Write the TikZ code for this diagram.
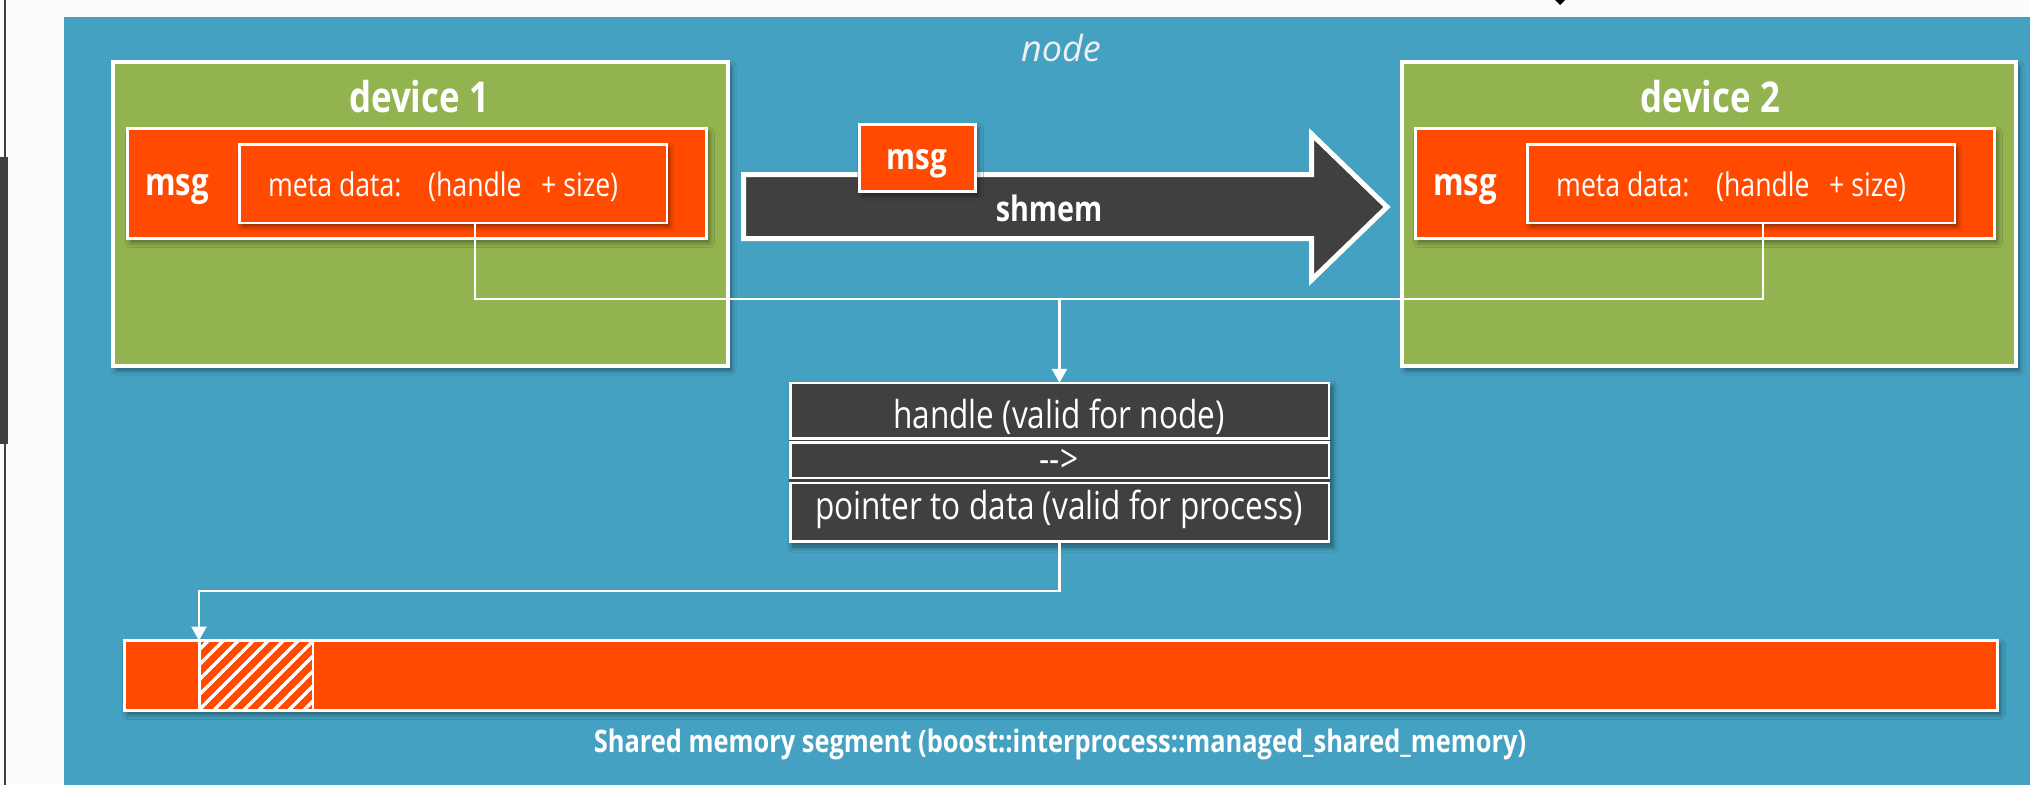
\documentclass[tikz,border=0pt]{standalone}
\usepackage{fontspec}
\setmainfont{Open Sans}[FakeStretch=0.82]
\newfontfamily\slantfont{Open Sans}
\usetikzlibrary{arrows.meta,shadows.blur}

\definecolor{panelblue}{HTML}{45A1C1}
\definecolor{devgreen}{HTML}{93B351}
\definecolor{msgorange}{HTML}{FF4A00}
\definecolor{slate}{HTML}{404040}
\definecolor{paper}{HTML}{FCFCFC}
\definecolor{faint}{HTML}{F0F0F0}

\newcommand\fsz[1]{\fontsize{#1}{#1}\selectfont}

\tikzset{
  plainbox/.style={rectangle, inner sep=0pt, outer sep=0pt, draw=white},
  softshadow/.style={blur shadow={shadow xshift=3pt, shadow yshift=-4pt,
      shadow blur radius=5pt, shadow blur steps=6, shadow opacity=45}},
  devbox/.style={plainbox, fill=devgreen, line width=4pt, softshadow},
  msgbox/.style={plainbox, fill=msgorange, line width=3pt, softshadow},
  metabox/.style={plainbox, fill=msgorange, line width=2.5pt, softshadow},
  cellbox/.style={plainbox, fill=slate, line width=2.5pt},
  devtitle/.style={text=white, font=\fsz{42.5}\bfseries, inner sep=0pt},
  msgtag/.style={text=white, font=\fsz{38}\bfseries, inner sep=0pt},
  metatext/.style={text=white, font=\fsz{32.5}, inner sep=0pt, anchor=base west},
  celltext/.style={text=white, font=\fsz{38.5}, inner sep=0pt},
  wire/.style={draw=white, line width=2.5pt},
  wirearrow/.style={wire, -{Triangle[width=15pt,length=14pt]}},
}

\begin{document}
\begin{tikzpicture}[x=1pt, y=-1pt]
  \useasboundingbox (0,0) rectangle (2030,785);

  % page surround and the blue panel
  \fill[paper] (0,0) rectangle (2030,785);
  \fill[slate] (4,0) rectangle (6,785);
  \fill[slate] (0,157) rectangle (8,444);
  \fill[black] (1555,0) -- (1565,0) -- (1560,5) -- cycle;
  \fill[panelblue] (64,17) rectangle (2030,785);

  \node[font=\slantfont\itshape\fsz{36}, text=faint, inner sep=0pt] (nodelabel) at (1061,48) {node};

  % the two devices
  \node[devbox, minimum width=615pt, minimum height=304pt] (dev1) at (420.5,214) {};
  \node[devbox, minimum width=614pt, minimum height=304pt] (dev2) at (1709,214) {};
  \node[devtitle] (dev1title) at (419,97) {device 1};
  \node[devtitle] (dev2title) at (1710,97) {device 2};

  \node[msgbox, minimum width=579pt, minimum height=110pt] (msg1) at (417,183.5) {};
  \node[msgbox, minimum width=579pt, minimum height=110pt] (msg2) at (1705,183.5) {};
  \node[msgtag] (msg1tag) at (177,189) {msg};
  \node[msgtag] (msg2tag) at (1465,189) {msg};

  \node[metabox, minimum width=427.5pt, minimum height=78.5pt] (meta1) at (453,183.5) {};
  \node[metabox, minimum width=427.5pt, minimum height=78.5pt] (meta2) at (1741,183.5) {};
  \node[metatext] (meta1a) at (268,196) {meta data:};
  \node[metatext] (handle1) at (428,196) {(handle};
  \node[metatext] (size1) at (541,196) {+ size)};
  \node[metatext] (meta2a) at (1556,196) {meta data:};
  \node[metatext] (handle2) at (1716,196) {(handle};
  \node[metatext] (size2) at (1829,196) {+ size)};

  % shared memory transport arrow
  \draw[white, line width=5pt, fill=slate, line join=miter]
    (743.5,174.5) -- (1311.5,174.5) -- (1311.5,134) -- (1387,207)
    -- (1311.5,280) -- (1311.5,238.5) -- (743.5,238.5) -- cycle;
  \node[text=white, font=\fsz{35}\bfseries, inner sep=0pt] (shmem) at (1049,208) {shmem};
  \node[msgbox, minimum width=116pt, minimum height=67pt] (msgx) at (917.5,158) {};
  \node[msgtag, font=\fsz{36}\bfseries] (msgxtag) at (917,164) {msg};

  % handle lookup table
  \node[plainbox, draw=none, fill=slate, softshadow, minimum width=541pt, minimum height=161pt] (tablebg) at (1059.5,462.5) {};
  \node[cellbox, minimum width=538.5pt, minimum height=55.5pt] (row1) at (1059.5,410.5) {};
  \node[cellbox, minimum width=538.5pt, minimum height=35.5pt] (row2) at (1059.5,460) {};
  \node[cellbox, minimum width=538.5pt, minimum height=58.5pt] (row3) at (1059.5,512) {};
  \node[celltext] (row1text) at (1059,417) {handle (valid for node)};
  \node[celltext] (row2text) at (1059,461) {-{}-{}>};
  \node[celltext] (row3text) at (1059,509) {pointer to data (valid for process)};

  % handles of both devices feed the table
  \coordinate (busy) at (0,299);
  \draw[wire] (handle1.south |- meta1.south) |- (handle2.south |- busy) -- (handle2.south |- meta2.south);
  \draw[wirearrow] (busy -| row1.north) -- (row1.north);

  % shared memory segment
  \node[msgbox, minimum width=1873pt, minimum height=70pt] (mem) at (1061,675.5) {};
  \begin{scope}
    \clip (199.25,641) rectangle (312.75,710);
    \foreach \k in {0,...,14}
      \draw[white, line width=3.5pt] (118+\k*15,716) -- ++(84,-84);
  \end{scope}
  \node[plainbox, line width=2.5pt, minimum width=113.5pt, minimum height=70pt] (hatch) at (256,675.5) {};

  \coordinate (drop) at (199,591);
  \draw[wirearrow] (row3.south) |- (drop) -- (drop |- mem.north);

  \node[text=white, font=\fsz{31}\bfseries, inner sep=0pt] (memcaption) at (1060,744)
    {Shared memory segment (boost::interprocess::managed\_shared\_memory)};
\end{tikzpicture}
\end{document}
